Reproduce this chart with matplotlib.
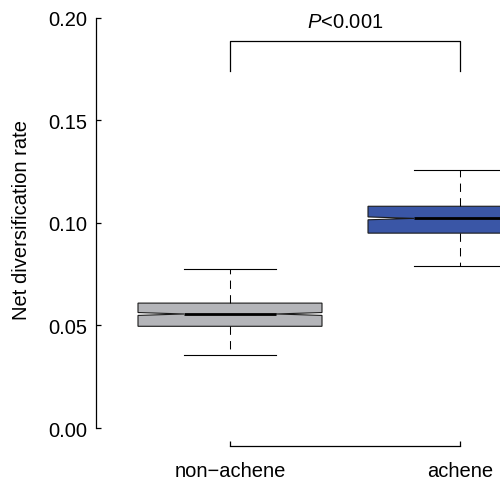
import matplotlib

matplotlib.use("Agg")
import matplotlib.pyplot as plt

plt.rcParams["font.family"] = ["Liberation Sans", "DejaVu Sans"]
plt.rcParams["mathtext.fontset"] = "custom"
plt.rcParams["mathtext.rm"] = "Liberation Sans"
plt.rcParams["mathtext.it"] = "Liberation Sans:italic"

# box summary per fruit type
groups = ["non\u2212achene", "achene"]
whislo = [0.0356, 0.0791]
q1 = [0.0496, 0.0950]
med = [0.0556, 0.1022]
q3 = [0.0609, 0.1081]
whishi = [0.0775, 0.1259]
notch_half = [0.0007, 0.0007]
colors = ["#b4b5b9", "#3a56a6"]

yticks = [0.00, 0.05, 0.10, 0.15, 0.20]
pval_text = "$P$<0.001"
bracket_top, bracket_bottom = 0.1888, 0.1742

FS = 14.5

stats = []
for i, g in enumerate(groups):
    stats.append(dict(label=g, whislo=whislo[i], q1=q1[i], med=med[i], q3=q3[i],
                      whishi=whishi[i], cilo=med[i] - notch_half[i],
                      cihi=med[i] + notch_half[i], fliers=[]))

fig = plt.figure(figsize=(5.0, 4.89), dpi=100)
ax = fig.add_axes([96 / 500, (489 - 446.7) / 489, (500 - 96) / 500, (446.7 - 18.7) / 489])

pos = list(range(1, len(groups) + 1))
bp = ax.bxp(stats, positions=pos, widths=0.8, capwidths=0.4, shownotches=True,
            patch_artist=True, showfliers=False,
            boxprops=dict(edgecolor="#1a1a1a", linewidth=0.8),
            medianprops=dict(color="black", linewidth=2.0, solid_capstyle="butt"),
            whiskerprops=dict(color="black", linewidth=0.75, linestyle=(0, (8, 6))),
            capprops=dict(color="black", linewidth=0.8))
for patch, c in zip(bp["boxes"], colors):
    patch.set_facecolor(c)
for art in bp["boxes"] + bp["medians"] + bp["whiskers"] + bp["caps"]:
    art.set_clip_on(False)

ax.set_xlim(1 - 134 / 230, 2 + 40 / 230)
ax.set_ylim(-0.0086, 0.2)

for s in ["top", "right"]:
    ax.spines[s].set_visible(False)
ax.spines["left"].set_bounds(0, 0.2)
ax.spines["bottom"].set_bounds(pos[0], pos[-1])
ax.spines["left"].set_linewidth(0.9)
ax.spines["bottom"].set_linewidth(0.9)

ax.set_yticks(yticks)
ax.set_yticklabels([f"{v:.2f}" for v in yticks])
ax.set_xticks(pos)
ax.set_xticklabels(groups)
ax.tick_params(axis="y", direction="in", length=3.5, width=0.9, labelsize=FS, pad=6)
ax.tick_params(axis="x", direction="in", length=3.5, width=0.9, labelsize=FS, pad=11)
ax.set_ylabel("Net diversification rate", fontsize=FS)
ax.yaxis.set_label_coords(-0.16, 0.53)

# significance bracket between the two groups
ax.plot([pos[0], pos[0], pos[1], pos[1]],
        [bracket_bottom, bracket_top, bracket_top, bracket_bottom],
        color="black", lw=0.9, clip_on=False)
ax.text((pos[0] + pos[1]) / 2, 0.1955, pval_text, ha="center", va="baseline",
        fontsize=FS, clip_on=False)

fig.savefig("out.png", dpi=100)
